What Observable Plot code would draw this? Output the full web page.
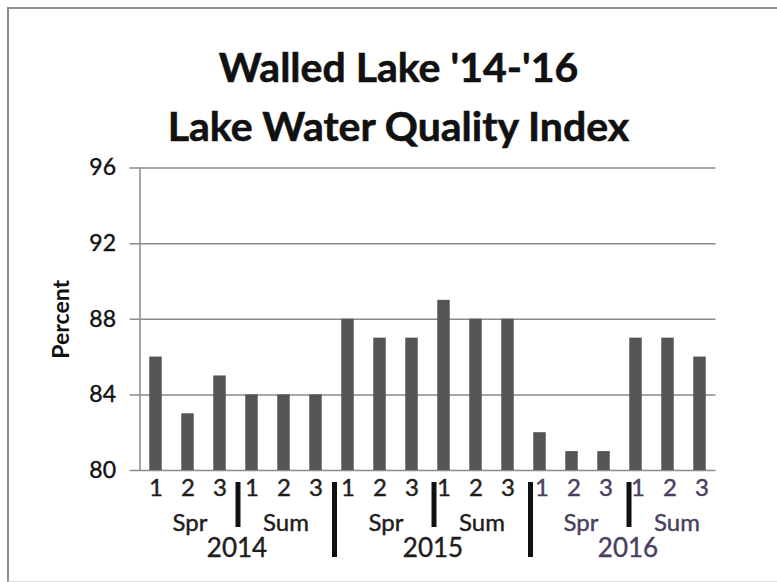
<!DOCTYPE html>
<html><head><meta charset="utf-8">
<script src="https://cdn.jsdelivr.net/npm/d3@7"></script>
<script src="https://cdn.jsdelivr.net/npm/@observablehq/plot@0.6"></script>
<style>
html,body{margin:0;padding:0;background:#fff;overflow:hidden;width:777px;height:582px;}
#wrap{position:relative;width:777px;height:582px;overflow:hidden;font-family:Lato,sans-serif;background:#fff;}
#frame{position:absolute;left:7px;top:7px;width:800px;height:572px;border-left:2px solid #8c8c8c;border-top:2px solid #8c8c8c;border-bottom:1px solid #dcdcdc;}
#chart{position:absolute;left:0;top:0;}
#title{position:absolute;left:10px;width:777px;top:37px;text-align:center;font-weight:bold;font-size:41px;line-height:59px;color:#111;margin:0;font-family:Lato,sans-serif;-webkit-text-stroke:0.6px #111;}
</style></head><body>
<div id="wrap"><div id="frame"></div><div id="chart"></div><h1 id="title">Walled Lake '14-'16<br>Lake Water Quality Index</h1></div>
<script>
// ---- data ----
const years = ["2014", "2015", "2016"];
const seasons = ["Spr", "Sum"];
const samples = ["1", "2", "3"];
const values2014 = [86, 83, 85, 84, 84, 84];
const values2015 = [88, 87, 87, 89, 88, 88];
const values2016 = [82, 81, 81, 87, 87, 86];
const yTicks = [80, 84, 88, 92, 96];
const yLabel = "Percent";

// ---- styles ----
const yearColor = {"2014": "#221c1c", "2015": "#221c1c", "2016": "#4a3f5e"};
const yearDx = {"2014": 2, "2015": 6, "2016": 9};
const barColor = "#555555";
const gridColor = "#8a8a8a";
const heavy = 0.4;

// ---- table built from the arrays ----
const valuesByYear = [values2014, values2015, values2016];
const rows = [];
years.forEach((yr, yi) => {
  seasons.forEach((se, si) => {
    samples.forEach((sa, k) => {
      const j = si * samples.length + k;
      rows.push({i: yi * 6 + j, year: yr, season: se, sample: sa, value: valuesByYear[yi][j]});
    });
  });
});
const seasonRows = [];
years.forEach((yr, yi) => seasons.forEach((se, si) => seasonRows.push({i: yi * 6 + si * 3 + 1, year: yr, season: se})));
const yearRows = years.map((yr, yi) => ({i: yi * 6 + 2.5, year: yr}));
const shortSeps = years.map((yr, yi) => ({i: yi * 6 + 2.5, year: yr}));
const longSeps = years.slice(0, -1).map((yr, yi) => ({i: yi * 6 + 5.5, year: yr}));

const xDomain = [-0.5, rows.length - 0.5];
const halfBar = 0.195;

const frameH = 470 - 167.5;
const marks = [
  Plot.ruleY(yTicks, {stroke: gridColor, strokeWidth: 1.5, insetLeft: -10}),
  Plot.text(yTicks, {y: d => d, text: d => String(d), frameAnchor: "left", textAnchor: "end", dx: -24, fontSize: 23, fill: "#111", stroke: "#111", strokeWidth: heavy}),
  Plot.ruleX([xDomain[0]], {stroke: gridColor, strokeWidth: 1.5}),
  Plot.rectY(rows, {x1: d => d.i - halfBar, x2: d => d.i + halfBar, y1: yTicks[0], y2: "value", fill: barColor}),
  Plot.text([yLabel], {frameAnchor: "left", textAnchor: "middle", dx: -78, rotate: -90, fontWeight: "bold", fontSize: 23, fill: "#111"})
];
years.forEach(yr => {
  const c = yearColor[yr], dx = yearDx[yr];
  marks.push(
    Plot.text(rows.filter(d => d.year === yr), {x: "i", text: "sample", frameAnchor: "bottom", dy: 25, dx: yr === "2016" ? 2 : 0, fontSize: 24, fill: c, stroke: c, strokeWidth: heavy}),
    Plot.text(seasonRows.filter(d => d.year === yr), {x: "i", text: "season", frameAnchor: "bottom", dy: 60, dx, fontSize: 24, fill: c, stroke: c, strokeWidth: heavy}),
    Plot.text(yearRows.filter(d => d.year === yr), {x: "i", text: "year", frameAnchor: "bottom", dy: 86, dx: dx - 1, fontSize: 26, fill: c, stroke: c, strokeWidth: heavy}),
    Plot.ruleX(shortSeps.filter(d => d.year === yr), {x: "i", insetTop: frameH - 45, dy: 57, dx, stroke: "#111", strokeWidth: 5}),
    Plot.ruleX(longSeps.filter(d => d.year === yr), {x: "i", insetTop: frameH - 75, dy: 87, dx: dx + 0.5, stroke: "#111", strokeWidth: 5})
  );
});

const chart = Plot.plot({
  width: 777,
  height: 582,
  marginTop: 167.5,
  marginBottom: 112,
  marginLeft: 139.5,
  marginRight: 61.5,
  style: {fontFamily: "Lato, sans-serif", background: "none", overflow: "visible"},
  x: {domain: xDomain, axis: null},
  y: {domain: [yTicks[0], yTicks[yTicks.length - 1]], axis: null},
  marks
});
document.getElementById("chart").appendChild(chart);
</script>
</body></html>
